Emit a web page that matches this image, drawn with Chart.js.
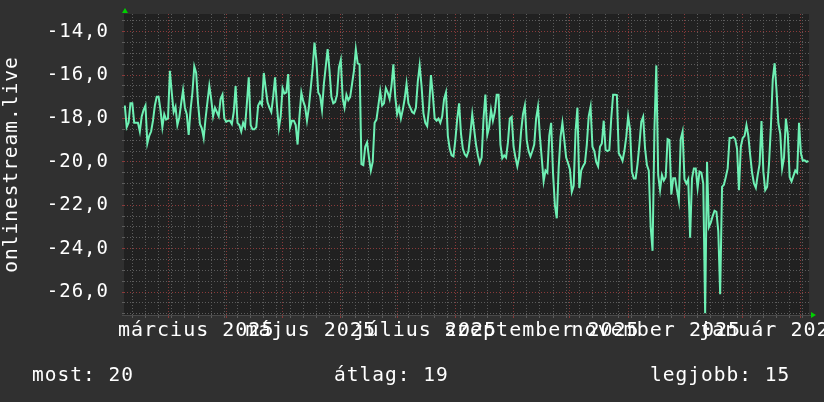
<!DOCTYPE html>
<html>
<head>
<meta charset="utf-8">
<script src="https://cdn.jsdelivr.net/npm/chart.js@4.4.1/dist/chart.umd.min.js"></script>
<style>
html,body{margin:0;padding:0;background:#303030;overflow:hidden}
canvas{display:block}
</style>
</head>
<body>
<canvas id="c" width="824" height="402"></canvas>
<script>
// ---- data (days are counted from 2025-03-01) ----
const seriesName = 'onlinestream.live';
const firstDay = -23;                 // first daily value: 2025-02-06
const xRange = [-23.43, 341.3];       // visible time window in days
const yRange = [-27.06, -13.18];
const values = [
  -17.4,-18.4,-18.2,-17.3,-17.3,-18.2,-18.2,-18.2,-18.6,-17.9,-17.6,-17.4,-19.15,-18.8,-18.6,-18.1,-17.4,-17.0,-17.0,-17.6,-18.4,-17.8,-18.05,-18.0,
  -15.8,-16.8,-17.7,-17.46,-18.3,-17.95,-17.3,-16.7,-17.5,-17.8,
  -18.76,-17.6,-16.8,-15.6,-15.9,-17.3,-18.25,-18.45,-18.9,-18.0,
  -17.23,-16.49,-17.1,-17.9,-17.5,-17.7,-17.9,-17.1,-16.9,-18.0,
  -18.15,-18.1,-18.1,-18.25,-17.7,-16.5,-18.2,-18.3,-18.6,-18.2,
  -18.4,-17.3,-16.1,-18.3,-18.5,-18.5,-18.4,-17.4,-17.23,-17.38,
  -15.9,-16.6,-17.25,-17.5,-17.7,-17.0,-16.1,-17.4,-18.45,-17.9,
  -16.6,-16.85,-16.8,-15.95,-18.4,-18.1,-18.1,-18.3,-19.2,-17.9,
  -16.8,-17.2,-17.46,-18.1,-17.5,-16.6,-15.7,-14.5,-15.3,-16.8,
  -16.95,-17.6,-16.4,-15.6,-14.8,-15.8,-17.0,-17.3,-17.23,-16.9,
  -15.65,-15.3,-17.07,-17.5,-16.9,
  -17.15,-17.0,-16.4,-15.8,-14.8,-15.46,-15.5,-20.1,-20.15,-19.3,
  -19.1,-19.8,-20.4,-20.0,-18.2,-18.05,-17.4,-16.75,-17.4,-17.3,
  -16.6,-16.8,-17.1,-16.5,-15.5,-17.0,-17.8,-17.5,-18.0,-17.6,
  -17.1,-16.4,-17.3,-17.5,-17.7,-17.76,-17.5,-16.3,-15.55,-16.5,
  -17.75,-18.2,-18.35,-17.5,-16.0,-16.9,-18.0,-18.1,-18.0,-18.2,
  -17.9,-17.1,-16.8,-18.8,-19.4,-19.7,-19.75,-19.0,-18.0,-17.3,
  -18.7,-19.4,-19.65,-19.75,-19.5,-18.7,-17.8,-18.5,-19.2,-19.7,
  -20.05,-19.8,-18.0,-16.9,-18.76,-18.4,-17.6,-18.1,-17.7,-16.9,
  -16.9,-19.2,-19.83,-19.7,-19.8,-19.1,-18.0,-17.92,-19.3,-19.8,
  -20.2,-19.76,-18.6,-17.8,-17.4,-19.0,-19.5,-19.75,-19.5,-19.2,
  -18.0,-17.46,-18.8,-19.83,-20.9,-20.4,-20.5,-18.8,-18.2,-20.5,
  -22.0,-22.6,-20.3,-18.85,-18.2,-19.0,-19.8,-20.05,-20.35,-21.38,
  -21.1,-18.6,-17.5,-21.2,
  -20.4,-20.2,-20.05,-19.2,-17.9,-17.46,-19.3,-19.5,-20.0,-20.2,
  -19.3,-19.15,-18.1,-19.45,-19.5,-19.45,-18.0,-16.9,-16.9,-16.92,
  -19.6,-19.75,-19.95,-19.5,-18.85,-17.9,-18.5,-20.45,-20.76,-20.76,
  -20.1,-19.2,-18.15,-17.92,-19.38,-20.15,-20.4,-23.0,-24.1,-18.5,
  -15.55,-20.6,-21.3,-20.6,-20.86,-20.7,-18.95,-19.0,-21.5,-20.75,
  -20.75,-21.3,-21.8,-18.95,-18.6,-20.8,-21.0,-20.8,-23.5,-20.76,
  -20.3,-20.3,-21.2,-20.45,-20.5,-21.0,-26.98,-20.0,-23.0,-22.8,
  -22.5,-22.25,-22.3,-23.2,-26.1,-21.15,-21.05,-20.7,-20.3,-18.9,
  -18.9,-18.85,-18.95,-19.4,-21.3,-19.3,-18.9,-18.8,-18.3,-18.8,
  -19.7,-20.5,-21.0,-21.2,-20.6,-20.1,-18.12,-20.45,-21.3,-21.15,
  -20.1,-18.4,-16.2,-15.45,-16.7,-18.22,-18.7,-20.3,-19.8,-18.0,
  -18.7,-20.7,-20.9,-20.65,-20.4,-20.5,-18.2,-19.6,-19.95,-19.93,
  -20.0,-19.96
];
// x-axis tick labels (every second month, label centred half a month later)
const xTickMonths = [[2025,2],[2025,4],[2025,6],[2025,8],[2025,10],[2026,0]];
const xTickLabels = ['március 2025','május 2025','július 2025','szeptember 2025','november 2025','január 2026'];
const yMajorStep = 2, yMinorStep = 0.5;
const summaryTexts = ['most: 20','átlag: 19','legjobb: 15'];

// ---- styling ----
const FONT = "'DejaVu Sans Mono', monospace";
const BG = '#303030', PLOT_BG = '#212121';
const LINE = '#6ef0b4';
const GRID_MINOR = '#5c5c5c', GRID_MAJOR = '#8a3a3a';
const ARROW = '#00d000';

const BASE = Date.UTC(2025, 2, 1);
const dayOf = (y, m, d) => (Date.UTC(y, m, d) - BASE) / 86400000;

const points = values.map((v, i) => ({ x: firstDay + i, y: v }));

function buildXTicks(scale) {
  const t = [];
  const majors = new Set();
  for (let i = 0; i < 16; i++) {
    const d = dayOf(2025, i, 1);
    if (d >= scale.min && d <= scale.max) { t.push({ value: d, kind: 'major' }); majors.add(d); }
  }
  // weekly lines on Mondays (2025-03-03 is a Monday)
  for (let d = dayOf(2025, 2, 3) - 7 * 10; d <= scale.max; d += 7) {
    if (d >= scale.min && !majors.has(d)) t.push({ value: d, kind: 'minor' });
  }
  xTickMonths.forEach((ym, i) => {
    const d = dayOf(ym[0], ym[1], 1) + 15;
    t.push({ value: d, kind: 'label', text: xTickLabels[i] });
  });
  t.sort((a, b) => a.value - b.value);
  scale.ticks = t;
}

function buildYTicks(scale) {
  const t = [];
  const start = Math.ceil(scale.min / yMinorStep) * yMinorStep;
  for (let v = start; v <= scale.max + 1e-9; v += yMinorStep) {
    const r = Math.round(v * 100) / 100;
    t.push({ value: r, kind: (Math.abs(r % yMajorStep) < 1e-9) ? 'major' : 'minor' });
  }
  scale.ticks = t;
}

const decor = {
  id: 'decor',
  beforeDraw(chart) {
    const { ctx, chartArea: a } = chart;
    ctx.save();
    ctx.fillStyle = BG;
    ctx.fillRect(0, 0, chart.width, chart.height);
    ctx.fillStyle = PLOT_BG;
    ctx.fillRect(a.left, a.top, a.right - a.left, a.bottom - a.top);
    ctx.restore();
    ctx.letterSpacing = '1px';
  },
  afterDraw(chart) {
    const { ctx, chartArea: a } = chart;
    ctx.save();
    ctx.strokeStyle = '#4a4a4a';
    ctx.lineWidth = 1;
    ctx.beginPath();
    ctx.moveTo(a.left - 2, a.bottom + 0.5);
    ctx.lineTo(a.right + 2, a.bottom + 0.5);
    ctx.stroke();
    ctx.fillStyle = ARROW;
    ctx.beginPath();
    ctx.moveTo(a.left + 1, a.top - 6);
    ctx.lineTo(a.left - 2, a.top - 1);
    ctx.lineTo(a.left + 4, a.top - 1);
    ctx.closePath();
    ctx.fill();
    ctx.beginPath();
    ctx.moveTo(a.right + 7, a.bottom);
    ctx.lineTo(a.right + 2, a.bottom - 3);
    ctx.lineTo(a.right + 2, a.bottom + 3);
    ctx.closePath();
    ctx.fill();
    ctx.letterSpacing = '1px';
    ctx.font = '19.5px ' + FONT;
    ctx.fillStyle = '#ffffff';
    ctx.textBaseline = 'alphabetic';
    ctx.textAlign = 'left';
    const xs = [32, 334, 650];
    summaryTexts.forEach((s, i) => ctx.fillText(s, xs[i], 381));
    ctx.restore();
  }
};

const gridColor = c => {
  const k = c.tick && c.tick.kind;
  if (k === 'major') return GRID_MAJOR;
  if (k === 'label') return 'rgba(0,0,0,0)';
  return GRID_MINOR;
};

new Chart(document.getElementById('c'), {
  type: 'line',
  data: {
    datasets: [{
      label: seriesName,
      data: points,
      borderColor: LINE,
      borderWidth: 2,
      pointRadius: 0,
      tension: 0,
      fill: false
    }]
  },
  options: {
    responsive: false,
    animation: false,
    devicePixelRatio: 1,
    layout: { padding: { top: 14, right: 15, left: 0, bottom: 0 } },
    plugins: { legend: { display: false }, tooltip: { enabled: false } },
    scales: {
      x: {
        type: 'linear',
        min: xRange[0], max: xRange[1],
        afterBuildTicks: buildXTicks,
        afterFit(s) { s.height = 87; s.paddingLeft = 0; s.paddingRight = 0; },
        border: { display: false, dash: [1, 2] },
        grid: { color: gridColor, tickColor: gridColor, lineWidth: 1, drawTicks: true, tickLength: 3, tickBorderDash: [] },
        ticks: {
          autoSkip: false, maxRotation: 0, minRotation: 0, padding: 3,
          color: '#ffffff',
          font: { family: FONT, size: 20, lineHeight: 1 },
          callback: (v, i, ticks) => ticks[i].kind === 'label' ? ticks[i].text : ''
        }
      },
      y: {
        type: 'linear',
        min: yRange[0], max: yRange[1],
        afterBuildTicks: buildYTicks,
        afterFit(s) { s.width = 124; s.paddingTop = 0; s.paddingBottom = 0; },
        border: { display: false, dash: [1, 2] },
        grid: { color: gridColor, tickColor: gridColor, lineWidth: 1, drawTicks: true, tickLength: 2, tickBorderDash: [] },
        ticks: {
          autoSkip: false, padding: 13,
          color: '#ffffff',
          font: { family: FONT, size: 19, lineHeight: 1 },
          callback: (v, i, ticks) => ticks[i].kind === 'major' ? v.toFixed(1).replace('.', ',') : ''
        },
        title: {
          display: true, text: seriesName, color: '#ffffff', padding: 0,
          font: { family: FONT, size: 19.5, lineHeight: 1.2 }
        }
      }
    }
  },
  plugins: [decor]
});
</script>
</body>
</html>
